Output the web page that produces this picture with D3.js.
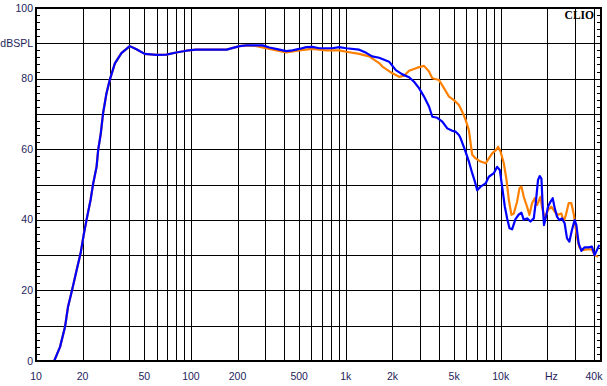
<!DOCTYPE html>
<html>
<head>
<meta charset="utf-8">
<script src="https://cdn.jsdelivr.net/npm/d3@7"></script>
<style>
  html, body { margin: 0; padding: 0; background: #ffffff; }
  svg { display: block; }
</style>
</head>
<body>
<svg id="chart" width="607" height="386"></svg>
<script>
// ---------- data ----------
const xTickValues = [10, 20, 50, 100, 200, 500, 1000, 2000, 5000, 10000, 20000, 40000];
const xTickLabels = ["10", "20", "50", "100", "200", "500", "1k", "2k", "5k", "10k", "Hz", "40k"];
const yTickValues = [0, 20, 40, 60, 80, 90, 100];
const yTickLabels = ["0", "20", "40", "60", "80", "dBSPL", "100"];

const blueFreq = [13.1, 14.3, 15.4, 16.1, 17.1, 18.3, 19.4, 20.4, 21.4, 22.5, 23.4, 24.6, 25.2, 26.2, 27.1, 28.5, 30.0, 32.3, 35.6, 40.3, 44.5, 50.3, 59.9, 69.4, 80.5, 93.4, 108, 170, 206, 228, 290, 321, 373, 413, 452, 501, 556, 608, 674, 817, 907, 1006, 1220, 1353, 1479, 1641, 1903, 2102, 2318, 2561, 2757, 2970, 3197, 3443, 3616, 3895, 4195, 4517, 4865, 5100, 5373, 5509, 5872, 6230, 6544, 6811, 7047, 7411, 7984, 8382, 9030, 9480, 9867, 10210, 10630, 11000, 11390, 11840, 12450, 13080, 13610, 14080, 14790, 15560, 16340, 16900, 17410, 17860, 18310, 18670, 19030, 19600, 20200, 20930, 21650, 22300, 23080, 23910, 24850, 25860, 26760, 27730, 28820, 30000, 30770, 31840, 33140, 34800, 36930, 38780, 40360, 41770, 43270];
const blueDb = [0, 4, 9.7, 15.4, 20.1, 25.8, 30.5, 36.2, 40.9, 45.6, 50.3, 55, 59.8, 64.5, 70.2, 75.8, 79.8, 84.3, 87.2, 89.2, 88.3, 87, 86.7, 86.8, 87.4, 87.9, 88.2, 88.2, 89.2, 89.4, 89.4, 88.8, 88.2, 87.8, 88, 88.4, 88.9, 89, 88.6, 88.6, 88.9, 88.6, 88.2, 87.3, 86.3, 85.9, 84.8, 82.4, 81.2, 80.4, 79.1, 77.3, 74.9, 72.1, 69.2, 68.9, 67.8, 65.9, 65.2, 65, 64, 63.1, 59.8, 56.5, 53.2, 50.8, 48.4, 49.4, 50.3, 52.2, 53.2, 55, 54.1, 49.4, 43.7, 40.4, 37.6, 37.3, 40.2, 41.5, 42, 40, 40.4, 39.5, 40.4, 45.6, 51.3, 52.4, 51.7, 43.7, 38.5, 40.9, 43.7, 45.1, 46.1, 43.3, 40.9, 39.9, 40.4, 39, 34.8, 33.8, 37.1, 39.9, 38.5, 33.3, 31.2, 32.2, 32.2, 32.4, 30, 31.4, 32.9];

const orangeFreq = [13.1, 14.3, 15.4, 16.1, 17.1, 18.3, 19.4, 20.4, 21.4, 22.5, 23.4, 24.6, 25.2, 26.2, 27.1, 28.5, 30.0, 32.3, 35.6, 40.3, 44.5, 50.3, 59.9, 69.4, 80.5, 93.4, 108, 170, 206, 228, 257, 321, 413, 501, 608, 748, 907, 1006, 1220, 1415, 1641, 1723, 1999, 2208, 2377, 2561, 2895, 3197, 3443, 3616, 3994, 4301, 4633, 4990, 5373, 5700, 5933, 6230, 6390, 6544, 6882, 7411, 7984, 8382, 8805, 9342, 9622, 9970, 10470, 10900, 11280, 11730, 12140, 12750, 13210, 13610, 14080, 14790, 15320, 15930, 16580, 17160, 18040, 18470, 19230, 20200, 21240, 22300, 23420, 24630, 25480, 26360, 27440, 28560, 29550, 31040, 32170, 33790, 36010, 38780, 40360, 42390];
const orangeDb = [0, 4, 9.7, 15.4, 20.1, 25.8, 30.5, 36.2, 40.9, 45.6, 50.3, 55, 59.8, 64.5, 70.2, 75.8, 79.8, 84.3, 87.2, 89.2, 88.3, 87, 86.7, 86.8, 87.4, 87.9, 88.2, 88.2, 89.2, 89.4, 89.3, 88.4, 87.4, 88, 88.4, 88, 88, 87.6, 87, 86.3, 84.4, 83.4, 81.5, 80.5, 80.8, 82.2, 83.1, 83.6, 82, 80.1, 79.6, 77.3, 74.9, 73.9, 72.5, 70.2, 68.3, 65.4, 61.7, 58.4, 57.4, 56.5, 56, 57.4, 58.8, 59.8, 60.7, 59.3, 56, 51.3, 45.6, 41.4, 41.8, 45.1, 48.9, 49.4, 46.5, 43.7, 41.4, 44.7, 46.1, 44.2, 46.5, 43.7, 40.4, 42.8, 43.7, 42.3, 41.4, 41.8, 39.5, 41.4, 44.7, 44.7, 41.8, 35.2, 32.2, 31.4, 31.6, 31.6, 30, 29.5];

// ---------- layout ----------
const plotL = 36, plotR = 601, plotT = 8, plotB = 361;
const svg = d3.select("#chart");

const x = d3.scaleLog().domain([10, 40000]).range([36, 594]);
const y = d3.scaleLinear().domain([0, 100]).range([plotB, plotT]);

const labelColor = "#1e1e5a";
const sans = "'Liberation Sans', Arial, sans-serif";

// grid: vertical
const g = svg.append("g").attr("shape-rendering", "crispEdges");
g.selectAll("line.vg").data(x.ticks()).join("line")
  .attr("class", "vg")
  .attr("x1", d => Math.round(x(d)) + 0.5).attr("x2", d => Math.round(x(d)) + 0.5)
  .attr("y1", plotT).attr("y2", plotB)
  .attr("stroke", "#000").attr("stroke-width", 1);

// grid: horizontal every 10 dB
g.selectAll("line.hg").data(d3.range(0, 101, 10)).join("line")
  .attr("class", "hg")
  .attr("x1", plotL).attr("x2", plotR)
  .attr("y1", d => Math.round(y(d)) + 0.5).attr("y2", d => Math.round(y(d)) + 0.5)
  .attr("stroke", "#000").attr("stroke-width", 1);

// minor ticks (2 dB) inside left and right borders
const minor = d3.range(0, 101, 2).filter(d => d % 10 !== 0);
g.selectAll("line.lt").data(minor).join("line")
  .attr("class", "lt")
  .attr("x1", plotL).attr("x2", plotL + 4)
  .attr("y1", d => Math.round(y(d)) + 0.5).attr("y2", d => Math.round(y(d)) + 0.5)
  .attr("stroke", "#000");
g.selectAll("line.rt").data(minor).join("line")
  .attr("class", "rt")
  .attr("x1", plotR - 4).attr("x2", plotR)
  .attr("y1", d => Math.round(y(d)) + 0.5).attr("y2", d => Math.round(y(d)) + 0.5)
  .attr("stroke", "#000");

// curves
const line = d3.line().x(d => x(d[0])).y(d => y(d[1]));
const orangeData = orangeFreq.map((f, i) => [f, orangeDb[i]]);
const blueData = blueFreq.map((f, i) => [f, blueDb[i]]);

svg.append("path").datum(orangeData)
  .attr("d", line).attr("fill", "none")
  .attr("stroke", "#ff8000").attr("stroke-width", 2.2)
  .attr("stroke-linejoin", "round");
svg.append("path").datum(blueData)
  .attr("d", line).attr("fill", "none")
  .attr("stroke", "#0000ff").attr("stroke-width", 2.2)
  .attr("stroke-linejoin", "round");

// frame
svg.append("rect")
  .attr("x", plotL).attr("y", plotT)
  .attr("width", plotR - plotL).attr("height", plotB - plotT)
  .attr("fill", "none").attr("stroke", "#000").attr("stroke-width", 2)
  .attr("shape-rendering", "crispEdges");

// y labels
svg.selectAll("text.yl").data(yTickValues).join("text")
  .attr("class", "yl")
  .attr("x", 33).attr("y", d => y(d) + 3.6)
  .attr("text-anchor", "end")
  .style("font-family", sans)
  .style("font-size", "10.5px")
  .attr("fill", labelColor)
  .text((d, i) => yTickLabels[i]);

// x labels
svg.selectAll("text.xl").data(xTickValues).join("text")
  .attr("class", "xl")
  .attr("x", (d, i) => x(d) + (xTickLabels[i] === "Hz" ? 4 : 0))
  .attr("y", 380)
  .attr("text-anchor", "middle")
  .style("font-family", sans)
  .style("font-size", "10.5px")
  .attr("fill", labelColor)
  .text((d, i) => xTickLabels[i]);

// CLIO mark
svg.append("text")
  .attr("x", 594).attr("y", 18.5)
  .attr("text-anchor", "end")
  .style("font-family", "'Liberation Serif', 'DejaVu Serif', serif")
  .style("font-weight", "bold")
  .style("font-size", "11.5px")
  .attr("fill", "#000")
  .text("CLIO");
</script>
</body>
</html>
